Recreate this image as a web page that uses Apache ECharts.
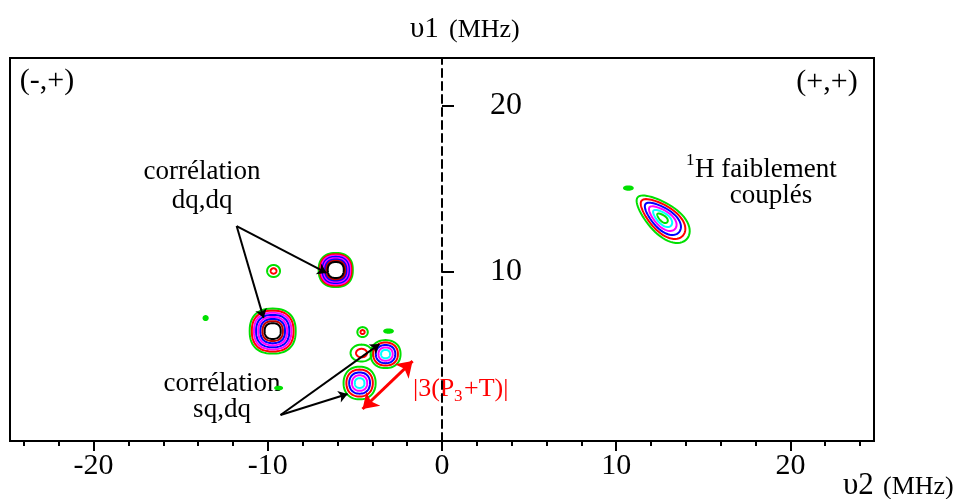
<!DOCTYPE html>
<html>
<head>
<meta charset="utf-8">
<script src="https://cdn.jsdelivr.net/npm/echarts@6/dist/echarts.min.js"></script>
<style>html,body{margin:0;padding:0;background:#fff}#c{width:957px;height:499px}</style>
</head>
<body>
<div id="c"></div>
<script>
// ---------- axes ----------
const xRange = [-24.8, 24.8];
const yRange = [-0.15, 22.85];
const xMajorTicks = [-20, -10, 0, 10, 20];
const xMinorTicks = [-24, -22, -18, -16, -14, -12, -8, -6, -4, -2, 2, 4, 6, 8, 12, 14, 16, 18, 22, 24];
const yTicks = [10, 20];

// ---------- correlation peaks (MHz) ----------
const peakNames = ['faint', 'dq,dq a', 'dq,dq b', 'faint', 'faint', 'sq,dq a', 'sq,dq b', 'faint', 'faint', 'faint', 'faint', '1H'];
const peakX     = [-9.67, -6.10, -9.72, -4.56, -4.62, -3.24, -4.73, -3.07, -13.57, 10.70, -9.38, 12.65];
const peakY     = [10.06, 10.12,  6.45,  6.39,  5.13,  5.07,  3.33,  6.45,   7.23, 15.04,  3.03, 13.24];
const peakHWX   = [0.37, 0.98, 1.32, 0.30, 0.63, 0.86, 0.92, 0.25, 0.12, 0.25, 0.20, 1.85];
const peakHWY   = [0.36, 1.02, 1.35, 0.30, 0.51, 0.84, 0.98, 0.10, 0.12, 0.10, 0.08, 0.90];
const peakLevels= [2, 8, 8, 2, 2, 5, 5, 1, 1, 1, 1, 6];
const peakCore  = [0.45, 0.47, 0.35, 0.4, 0.5, 0.3, 0.3, 1, 1, 1, 1, 0.2];
const peakTilt  = [0, 0, 0, 0, 0, 0, 0, 0, 0, 0, 0, 40];
const peakTaper = [0, 0, 0, 0, 0, 0, 0, 0, 0, 0, 0, 0.25];
const peakShape = [2, 2.4, 2.4, 2, 2, 2.2, 2.2, 2, 2, 2, 2, 2];

// ---------- annotation arrows (MHz) ----------
const arrowFrom = [[-11.79, 12.76], [-11.79, 12.76], [-9.27, 1.41], [-9.27, 1.41]];
const arrowTo   = [[-6.63, 9.94], [-10.24, 7.23], [-3.59, 5.67], [-5.42, 2.67]];
const spanFrom  = [[-4.56, 1.77]];
const spanTo    = [[-1.69, 4.65]];

const strongPalette = ['#00e000', '#ff0000', '#ff00ff', '#0000ff', '#ff00ff', '#0000ff', '#c00000', '#000000'];
const weakPalette   = ['#00e000', '#ff0000', '#0000ff', '#ff00ff', '#00ffff', '#00e000'];
const FONT = '"Liberation Serif", "Times New Roman", serif';

const peakData = peakX.map((x, i) => [x, peakY[i], peakHWX[i], peakHWY[i], peakLevels[i], peakCore[i], peakTilt[i], peakTaper[i], peakShape[i]]);

function renderPeak(params, api) {
  const c = api.coord([api.value(0), api.value(1)]);
  const s = api.size([api.value(2), api.value(3)]);
  const n = api.value(4), core = api.value(5), tilt = api.value(6) * Math.PI / 180;
  const taper = api.value(7), sq = api.value(8);
  const pal = n >= 7 ? strongPalette : weakPalette;
  const children = [];
  for (let k = 0; k < n; k++) {
    const f = n === 1 ? 1 : 1 - k * (1 - core) / (n - 1);
    const pts = [];
    const N = 60;
    for (let j = 0; j < N; j++) {
      const t = j / N * 2 * Math.PI;
      const ct = Math.cos(t), st = Math.sin(t);
      const ex = Math.sign(ct) * Math.pow(Math.abs(ct), 2 / sq);
      const ey = Math.sign(st) * Math.pow(Math.abs(st), 2 / sq);
      const a = ex * s[0] * f;
      const b = ey * s[1] * f * (1 + taper * ex);
      pts.push([c[0] + a * Math.cos(tilt) - b * Math.sin(tilt), c[1] + a * Math.sin(tilt) + b * Math.cos(tilt)]);
    }
    children.push({
      type: 'polygon', shape: { points: pts },
      style: { fill: n === 1 ? pal[0] : 'none', stroke: pal[k], lineWidth: 2 }
    });
  }
  return { type: 'group', children };
}

function txt(text, x, y, size, align, color) {
  return {
    type: 'text', x, y, silent: true,
    style: { text, font: size + 'px ' + FONT, fill: color || '#000', align: align || 'center', verticalAlign: 'middle' }
  };
}

const chart = echarts.init(document.getElementById('c'), null, { renderer: 'canvas' });
chart.setOption({
  animation: false,
  backgroundColor: '#fff',
  grid: { left: 10, right: 83, top: 58, bottom: 58, show: true, borderColor: '#000', borderWidth: 2, backgroundColor: 'transparent' },
  xAxis: [{
    type: 'value', min: xRange[0], max: xRange[1], position: 'bottom',
    axisLine: { onZero: false, lineStyle: { color: '#000', width: 2 } },
    axisTick: { customValues: xMajorTicks, length: 10, lineStyle: { color: '#000', width: 2 } },
    axisLabel: { customValues: xMajorTicks, fontFamily: FONT, fontSize: 30, color: '#000', margin: 10 },
    splitLine: { show: false }
  }, {
    type: 'value', min: xRange[0], max: xRange[1], position: 'bottom', offset: 0,
    axisLine: { show: false, onZero: false },
    axisTick: { customValues: xMinorTicks, length: 5, lineStyle: { color: '#000', width: 2 } },
    axisLabel: { show: false },
    splitLine: { show: false }
  }],
  yAxis: {
    type: 'value', min: yRange[0], max: yRange[1],
    axisLine: { onZero: true, onZeroAxisIndex: 0, lineStyle: { color: '#000', width: 2, type: [8, 5] } },
    axisTick: { customValues: yTicks, inside: true, length: 12, lineStyle: { color: '#000', width: 2 } },
    axisLabel: { customValues: yTicks, inside: true, margin: 480, fontFamily: FONT, fontSize: 32, color: '#000' },
    splitLine: { show: false }
  },
  series: [{
    type: 'custom', name: 'contours', renderItem: renderPeak, data: peakData,
    xAxisIndex: 0, yAxisIndex: 0, silent: true, z: 3
  }, {
    type: 'lines', coordinateSystem: 'cartesian2d', xAxisIndex: 0, yAxisIndex: 0, z: 4,
    symbol: ['none', 'arrow'], symbolSize: 9,
    lineStyle: { color: '#000', width: 2, opacity: 1, curveness: 0 },
    data: arrowFrom.map((p, i) => ({ coords: [p, arrowTo[i]] }))
  }, {
    type: 'lines', coordinateSystem: 'cartesian2d', xAxisIndex: 0, yAxisIndex: 0, z: 4,
    symbol: ['arrow', 'arrow'], symbolSize: 15,
    lineStyle: { color: '#ff0000', width: 3, opacity: 1, curveness: 0 },
    data: spanFrom.map((p, i) => ({ coords: [p, spanTo[i]] }))
  }],
  graphic: [
    txt('υ1', 410, 29, 29, 'left'),
    txt('(MHz)', 449, 30, 26, 'left'),
    txt('υ2', 843, 486, 31, 'left'),
    txt('(MHz)', 883, 487, 26, 'left'),
    txt('(-,+)', 47, 81, 30),
    txt('(+,+)', 827, 82, 30),
    txt('corrélation', 202, 172, 27),
    txt('dq,dq', 202, 201, 27),
    txt('corrélation', 222, 384, 27),
    txt('sq,dq', 222, 410, 27),
    txt('1', 686, 161, 17, 'left'),
    txt('H faiblement', 695, 170, 27, 'left'),
    txt('couplés', 771, 196, 27),
    txt('|3(P', 413, 389, 26, 'left', '#ff0000'),
    txt('3', 454, 397, 17, 'left', '#ff0000'),
    txt('+T)|', 464, 389, 26, 'left', '#ff0000')
  ]
});
</script>
</body>
</html>
